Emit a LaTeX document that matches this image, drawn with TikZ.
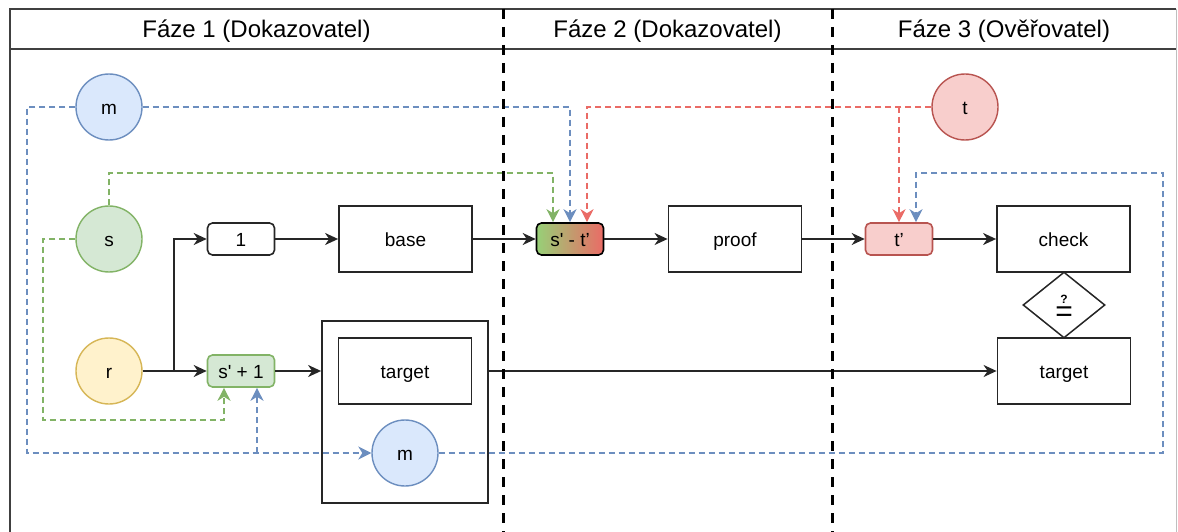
\documentclass[tikz,border=0pt]{standalone}
\usepackage{fontspec}
\setmainfont{Liberation Sans}
\usetikzlibrary{arrows.meta,shapes.geometric}
\definecolor{bluefill}{HTML}{DAE8FC}
\definecolor{bluestroke}{HTML}{6C8EBF}
\definecolor{greenfill}{HTML}{D5E8D4}
\definecolor{greenstroke}{HTML}{82B366}
\definecolor{yellowfill}{HTML}{FFF2CC}
\definecolor{yellowstroke}{HTML}{D6B656}
\definecolor{redfill}{HTML}{F8CECC}
\definecolor{redstroke}{HTML}{B85450}
\definecolor{reddash}{HTML}{EA6B66}
\definecolor{gradgreen}{HTML}{97D077}
\definecolor{gradred}{HTML}{EA6B66}
\begin{document}
\begin{tikzpicture}[x=1pt,y=-1pt,
  every node/.style={font=\fontsize{19}{22}\selectfont,text height=15pt,text depth=0pt},
  circ/.style={circle,draw,line width=1.4pt,minimum size=66pt,inner sep=0pt},
  bigbox/.style={rectangle,draw=black!85,line width=1.8pt,minimum width=133pt,minimum height=66pt,inner sep=0pt},
  smallbox/.style={rectangle,rounded corners=5pt,line width=1.6pt,minimum width=67pt,minimum height=32pt,inner sep=0pt},
  conn/.style={draw=black!85,line width=1.5pt,-{Stealth[length=13pt,width=12pt,inset=4pt]}},
  dconn/.style={line width=1.5pt,dash pattern=on 6pt off 4pt},
  tipend/.style={-{Stealth[length=13pt,width=13pt,inset=4pt]}},
  sepline/.style={line width=3pt,dash pattern=on 10pt off 8pt},
  hdr/.style={font=\fontsize{24}{28}\selectfont,text height=18pt}
]
\useasboundingbox (0,0) rectangle (1178,532);
% frame
\draw[black!75,line width=1.5pt] (10,532) -- (10,9) -- (1176,9);
\draw[black!75,line width=1.5pt] (10,49) -- (1176,49);
\draw[black!25,line width=1pt] (1176,9) -- (1176,532);
\node[hdr] (h1) at (256.5,29) {Fáze 1 (Dokazovatel)};
\node[hdr] (h2) at (667.5,29) {Fáze 2 (Dokazovatel)};
\node[hdr] (h3) at (1004,29) {Fáze 3 (Ověřovatel)};

% circles
\node[circ,draw=bluestroke,fill=bluefill] (m1) at (109,107) {m};
\node[circ,draw=greenstroke,fill=greenfill] (s) at (109,239) {s};
\node[circ,draw=yellowstroke,fill=yellowfill] (r) at (109,371) {r};
\node[circ,draw=redstroke,fill=redfill] (t) at (965,107) {t};

% boxes
\node[smallbox,draw=black!85,fill=white] (one) at (241,239) {1};
\node[bigbox] (base) at (405.5,239) {base};
\node[smallbox,draw=black,left color=gradgreen,right color=gradred] (sm) at (570,239) {s\textquotesingle{} - t’};
\node[bigbox] (proof) at (735,239) {proof};
\node[smallbox,draw=redstroke,fill=redfill] (tp) at (899,239) {t’};
\node[bigbox] (check) at (1063.5,239) {check};
\node[diamond,draw=black!85,line width=1.5pt,fill=white,minimum width=82pt,minimum height=66pt,inner sep=0pt] (dia) at (1064,305) {};
\node[inner sep=0pt,text height=,text depth=,align=center,font=\fontsize{12}{17.5}\selectfont] (qeq) at (1064,308.4) {\textbf{?}\\{\fontsize{30}{17.5}\selectfont =}};
\node[bigbox] (target2) at (1064,371) {target};
\node[smallbox,draw=greenstroke,fill=greenfill] (splus) at (241,371) {s\textquotesingle{} + 1};
\node[rectangle,draw=black!85,line width=1.8pt,minimum width=166pt,minimum height=182pt,inner sep=0pt] (outer) at (405,412) {};
\node[bigbox] (target1) at (405,371) {target};
\node[circ,draw=bluestroke,fill=bluefill] (m2) at (405,453) {m};

% solid connectors
\coordinate (j) at (174,371);
\draw[conn] (r) -- (splus);
\draw[conn] (j) |- (one);
\draw[conn] (one) -- (base);
\draw[conn] (base) -- (sm);
\draw[conn] (sm) -- (proof);
\draw[conn] (proof) -- (tp);
\draw[conn] (tp) -- (check);
\draw[conn] (splus) -- (splus -| outer.west);
\draw[conn] (target2 -| outer.east) -- (target2);

% dashed connectors
\coordinate (bj) at (257,453);
\coordinate (rj) at (899,107);
\draw[dconn,bluestroke,tipend] (m1.west) -- (27,107) -- (27,453) -- (m2.west);
\draw[dconn,bluestroke,tipend] (bj) -- ([xshift=16pt]splus.south);
\draw[dconn,bluestroke,tipend] (m1.east) -| (sm.north);
\draw[dconn,bluestroke,tipend] (m2.east) -- (1163,453) -- (1163,173) -- (916,173) -- ([xshift=17pt]tp.north);
\draw[dconn,greenstroke,tipend] (s.north) -- (109,173) -- (553,173) -- ([xshift=-17pt]sm.north);
\draw[dconn,greenstroke,tipend] (s.west) -- (43,239) -- (43,420) -- (224,420) -- ([xshift=-17pt]splus.south);
\draw[dconn,reddash,tipend] (t.west) -- (587,107) -- ([xshift=17pt]sm.north);
\draw[dconn,reddash,tipend] (rj) -- (tp.north);

% lane separators
\draw[sepline] (503,9) -- (503,532);
\draw[sepline] (832,9) -- (832,532);
\end{tikzpicture}
\end{document}
